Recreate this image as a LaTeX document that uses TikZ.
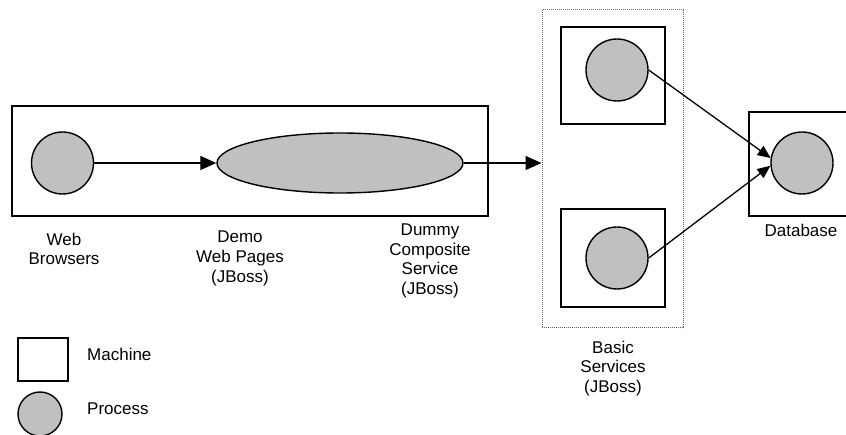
\documentclass[tikz,border=0pt]{standalone}
\usepackage{fontspec}
\setmainfont{Liberation Sans}
\usetikzlibrary{shapes.geometric,arrows.meta}
\definecolor{procgray}{RGB}{192,192,192}
\tikzset{
  proc/.style={circle,draw=black,line width=1.4pt,fill=procgray,minimum size=62pt,inner sep=0pt},
  machine/.style={draw=black,line width=1.4pt,inner sep=0pt},
  lbl/.style={align=center,font=\fontsize{17}{19.8}\selectfont,inner sep=0pt},
  flow/.style={line width=1.3pt,-{Triangle[length=16pt,width=14pt]}},
  flowsmall/.style={line width=1.3pt,-{Triangle[length=13pt,width=11pt]}}
}
\begin{document}
\begin{tikzpicture}[x=1pt,y=-1pt]
\useasboundingbox (0,0) rectangle (846,435);
% machines
\node[machine,minimum width=476pt,minimum height=110pt] (m1) at (250,161) {};
\node[draw=gray!80!black,densely dotted,line width=1pt,minimum width=141pt,minimum height=318pt,inner sep=0pt] (bs) at (612.5,169) {};
\node[machine,minimum width=104pt,minimum height=97pt] (m2) at (613,75.5) {};
\node[machine,minimum width=104pt,minimum height=98pt] (m3) at (613,258) {};
\node[machine,minimum width=101pt,minimum height=104pt] (m4) at (799.5,164) {};
% processes
\node[proc] (wb) at (62.5,163) {};
\node[ellipse,draw=black,line width=1.4pt,fill=procgray,minimum width=246pt,minimum height=60pt,inner sep=0pt] (demo) at (340,163) {};
\node[proc] (s1) at (617,70) {};
\node[proc] (s2) at (617,258) {};
\node[proc] (db) at (802,163) {};
% connectors
\draw[flow] (wb) -- (demo);
\draw[flow] (demo.east) -- (demo.east -| bs.west);
\draw[flowsmall] (s1.east) -- (db.171);
\draw[flowsmall] (s2.east) -- (db.185);
% labels
\node[lbl] (lwb) at (64,249) {Web\\Browsers};
\node[lbl] (ldemo) at (240,258.5) {Demo\\Web Pages\\(JBoss)};
\node[lbl] (ldummy) at (430,261) {Dummy\\Composite\\Service\\(JBoss)};
\node[lbl] (lbs) at (613,368.5) {Basic\\Services\\(JBoss)};
\node[lbl] (ldb) at (801,230) {Database};
% legend
\node[machine,minimum width=50pt,minimum height=43pt] (legm) at (43,359.5) {};
\node[lbl,anchor=west] (legmt) at (87,354) {Machine};
\node[proc,minimum size=44pt] (legp) at (40,414) {};
\node[lbl,anchor=west] (legpt) at (87,409) {Process};
\end{tikzpicture}
\end{document}
